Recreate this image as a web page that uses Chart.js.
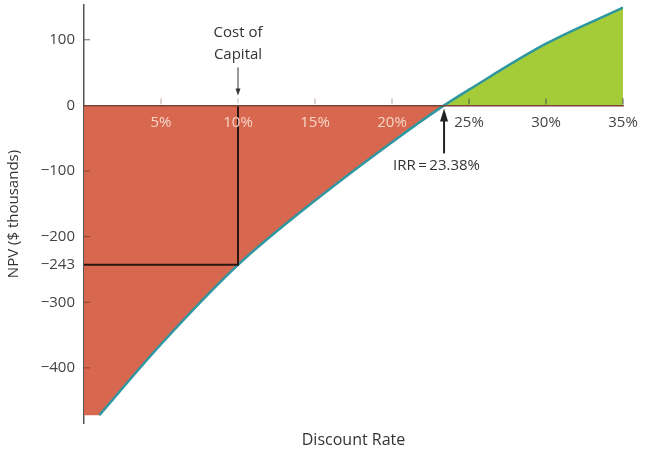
<!DOCTYPE html>
<html>
<head>
<meta charset="utf-8">
<script src="https://cdn.jsdelivr.net/npm/chart.js@4"></script>
<style>
  html, body { margin: 0; padding: 0; background: #fff; }
  #wrap { width: 648px; height: 450px; }
</style>
</head>
<body>
<div id="wrap"><canvas id="npvChart"></canvas></div>
<script>
// values
const rates = [1, 5, 10, 15, 20, 23.38, 25, 30, 35];
const npv = [-472, -364, -243, -145, -56, 0, 24, 94, 149];
const costOfCapital = 10;
const npvAtCost = -243;
const irr = 23.38;
const xTicks = [5, 10, 15, 20, 25, 30, 35];
const yTicks = [100, 0, -100, -200, -243, -300, -400];

const red = '#d8674f';
const green = '#a3cc38';
const teal = '#2f97a0';
const font = '"Open Sans", Lato, sans-serif';

const curve = rates.map((r, i) => ({ x: r, y: npv[i] }));
// fill between the axis and the first reading (0% to 1%), overlapping a hair to avoid a seam
const sliver = [{ x: 0, y: npv[0] }, { x: rates[0] + 0.06, y: npv[0] }];
const guide = [{ x: costOfCapital, y: 0 }, { x: costOfCapital, y: npvAtCost }, { x: 0, y: npvAtCost }];

function arrowHead(ctx, x, y, dir, w, h) {
  ctx.beginPath();
  ctx.moveTo(x, y);
  ctx.lineTo(x - w, y - dir * h);
  ctx.lineTo(x + w, y - dir * h);
  ctx.closePath();
  ctx.fill();
}

const notes = {
  id: 'notes',
  afterDraw(chart) {
    const { ctx, scales: { x, y }, chartArea } = chart;
    const y0 = y.getPixelForValue(0);
    ctx.save();
    // x tick marks above the axis
    ctx.lineWidth = 1;
    xTicks.forEach(v => {
      if (v === costOfCapital) return;
      const px = x.getPixelForValue(v);
      ctx.strokeStyle = v <= 20 ? '#b9a59c' : '#555';
      ctx.beginPath(); ctx.moveTo(px, y0 - 1); ctx.lineTo(px, y0 - 7); ctx.stroke();
    });
    // y tick marks inside
    yTicks.forEach(v => {
      if (v === 0 || v === npvAtCost) return;
      const py = y.getPixelForValue(v);
      ctx.strokeStyle = v > 0 ? '#666' : '#8a4436';
      ctx.beginPath(); ctx.moveTo(chartArea.left, py); ctx.lineTo(chartArea.left + 6, py); ctx.stroke();
    });

    ctx.fillStyle = '#333';
    ctx.font = '15px ' + font;
    ctx.textAlign = 'center';
    ctx.textBaseline = 'middle';
    const cx = x.getPixelForValue(costOfCapital);
    ctx.fillText('Cost of', cx, y0 - 73);
    ctx.fillText('Capital', cx, y0 - 51);
    ctx.strokeStyle = '#333';
    ctx.lineWidth = 1;
    ctx.beginPath(); ctx.moveTo(cx, y0 - 38); ctx.lineTo(cx, y0 - 16); ctx.stroke();
    arrowHead(ctx, cx, y0 - 10, 1, 2.5, 7);
    ctx.strokeStyle = '#bbb';
    ctx.beginPath(); ctx.moveTo(cx, y0 - 2); ctx.lineTo(cx, y0 - 7); ctx.stroke();

    // IRR arrow
    const ix = x.getPixelForValue(irr);
    ctx.strokeStyle = '#222';
    ctx.fillStyle = '#222';
    ctx.lineWidth = 2;
    ctx.beginPath(); ctx.moveTo(ix, y0 + 48); ctx.lineTo(ix, y0 + 14); ctx.stroke();
    arrowHead(ctx, ix, y0 + 3, -1, 4, 13);
    ctx.fillStyle = '#333';
    ctx.textAlign = 'left';
    ctx.fillText('IRR\u2009=\u200923.38%', ix - 51, y0 + 60);

    ctx.font = '500 16px ' + font;
    ctx.textAlign = 'center';
    ctx.fillText('Discount Rate', (chartArea.left + chartArea.right) / 2, 440);
    ctx.restore();
  }
};

new Chart(document.getElementById('npvChart'), {
  type: 'line',
  data: {
    datasets: [
      {
        data: guide,
        borderColor: '#2a1612',
        borderWidth: 2,
        pointRadius: 0,
        fill: false
      },
      {
        data: curve,
        borderColor: teal,
        borderWidth: 2.5,
        pointRadius: 0,
        cubicInterpolationMode: 'monotone',
        fill: { target: 'origin', above: green, below: red }
      },
      {
        data: sliver,
        borderWidth: 0,
        borderColor: 'rgba(0,0,0,0)',
        pointRadius: 0,
        fill: { target: 'origin', above: green, below: red }
      }
    ]
  },
  options: {
    responsive: true,
    maintainAspectRatio: false,
    animation: false,
    layout: { padding: { top: 5, right: 25, bottom: 27, left: 0 } },
    plugins: { legend: { display: false }, tooltip: { enabled: false } },
    scales: {
      x: {
        type: 'linear',
        position: { y: 0 },
        min: 0,
        max: 35,
        afterBuildTicks: s => { s.ticks = xTicks.map(v => ({ value: v })); },
        grid: { display: false, drawTicks: false },
        border: { color: '#7a4436', width: 1.5, z: 1 },
        ticks: {
          z: 1,
          padding: 8,
          font: { family: font, size: 15 },
          color: c => (c.tick && c.tick.value <= 20 ? '#f7d6c8' : '#444'),
          callback: v => v + '%'
        }
      },
      y: {
        type: 'linear',
        position: 'left',
        min: -484,
        max: 153,
        afterBuildTicks: s => { s.ticks = yTicks.map(v => ({ value: v })); },
        afterFit: s => { s.width = 84; s.paddingTop = 0; s.paddingBottom = 0; },
        grid: { display: false, drawTicks: false },
        border: { color: '#555', width: 1.5 },
        ticks: {
          padding: 9,
          font: { family: font, size: 15 },
          color: '#444',
          callback: v => (v < 0 ? '\u2212' + Math.abs(v) : String(v))
        },
        title: {
          display: true,
          text: 'NPV ($ thousands)',
          font: { family: font, size: 15, weight: '500' },
          color: '#333',
          padding: { top: 5, bottom: 0 }
        }
      }
    }
  },
  plugins: [notes]
});
</script>
</body>
</html>
